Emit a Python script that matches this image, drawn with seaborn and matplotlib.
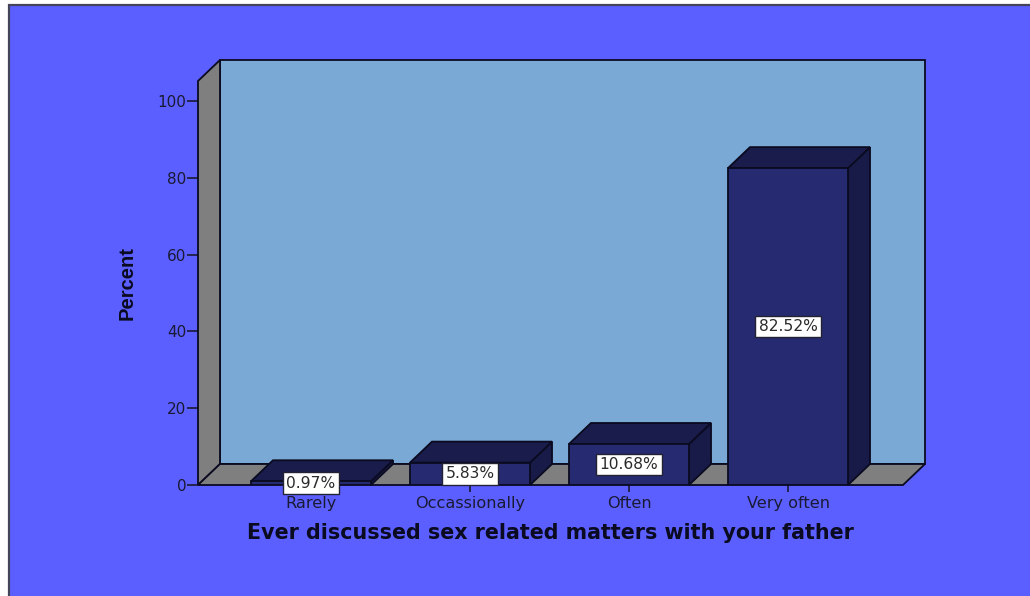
"""
Percent bar chart with a fake 3D box look, the way SPSS draws it.
"""

import matplotlib
matplotlib.use("Agg")
import matplotlib.pyplot as plt
from matplotlib.patches import Polygon, Rectangle
import seaborn as sns

categories = ["Rarely", "Occassionally", "Often", "Very often"]
percent = [0.97, 5.83, 10.68, 82.52]
bar_labels = ["0.97%", "5.83%", "10.68%", "82.52%"]
y_ticks = [0, 20, 40, 60, 80, 100]

x_title = "Ever discussed sex related matters with your father"
y_title = "Percent"

# colours
page_blue = "#5B5FFF"
wall_blue = "#7BA9D6"
wall_grey = "#7F7F7F"
bar_front = "#262A70"
bar_side = "#181B48"
bar_top = "#1A1C4B"
ink = "#1A1A33"

W, H = 1030, 596
depth_x = 22 / 159      # box depth in x data units
depth_y = 21 / 3.84     # box depth in y data units

sns.set_theme(style="white")
# the original text is stretched sideways, DejaVu is the closest width
plt.rcParams["font.family"] = ["DejaVu Sans"]

fig = plt.figure(figsize=(W / 100, H / 100), dpi=100, facecolor="white")

# page panel, runs off the right and bottom of the image
fig.add_artist(Rectangle((9 / W, -0.02), 1.02, 1 - 5 / H + 0.02, transform=fig.transFigure,
                         facecolor=page_blue, edgecolor="#44445A", linewidth=1.6, zorder=-1))

ax = fig.add_axes([198 / W, (H - 485) / H, 705 / W, 404 / H])
ax.patch.set_alpha(0)
for spine in ax.spines.values():
    spine.set_visible(False)

sns.barplot(x=categories, y=percent, color=bar_front, saturation=1, width=0.755,
            edgecolor="#0A0A20", linewidth=1.3, ax=ax, zorder=3)

x0, x1 = (198 - 311) / 159, (903 - 311) / 159
y1 = 404 / 3.84
ax.set_xlim(x0, x1)
ax.set_ylim(0, y1)


def box_face(points, color, zorder):
    ax.add_patch(Polygon(points, closed=True, facecolor=color, edgecolor="#0A0A20",
                         linewidth=1.3, clip_on=False, zorder=zorder))


# walls and floor
dx, dy = depth_x, depth_y
box_face([(x0 + dx, dy), (x1 + dx, dy), (x1 + dx, y1 + dy), (x0 + dx, y1 + dy)], wall_blue, 1)
box_face([(x0, 0), (x0 + dx, dy), (x0 + dx, y1 + dy), (x0, y1)], wall_grey, 1)
box_face([(x0, 0), (x1, 0), (x1 + dx, dy), (x0 + dx, dy)], wall_grey, 1)

# side and top of every bar, taken from the bars seaborn drew
for bar in ax.containers[0]:
    left, right = bar.get_x(), bar.get_x() + bar.get_width()
    top = bar.get_height()
    box_face([(right, 0), (right + dx, dy), (right + dx, top + dy), (right, top)], bar_side, 2)
    box_face([(left, top), (right, top), (right + dx, top + dy), (left + dx, top + dy)], bar_top, 2)

ax.bar_label(ax.containers[0], labels=bar_labels, label_type="center", fontsize=11.2, color="#2A2A2A",
             zorder=6, bbox=dict(boxstyle="square,pad=0.22", facecolor="white", edgecolor="#222233", linewidth=1))

ax.set_yticks(y_ticks)
ax.tick_params(axis="y", left=True, length=8, width=1.2, color=ink, pad=0.5, labelsize=11, labelcolor=ink)
ax.tick_params(axis="x", bottom=True, length=5, width=1.2, color=ink, pad=3, labelsize=11.6, labelcolor=ink)

fig.text(550 / W, (H - 533) / H, x_title, ha="center", va="center", fontsize=14.9, fontweight="bold",
         color="#0A0A20")
fig.text(127 / W, (H - 283) / H, y_title, ha="center", va="center", rotation=90, fontsize=14.5,
         fontweight="bold", color="#0A0A20", family="Liberation Sans")

fig.savefig("out.png", dpi=100, facecolor=fig.get_facecolor())
